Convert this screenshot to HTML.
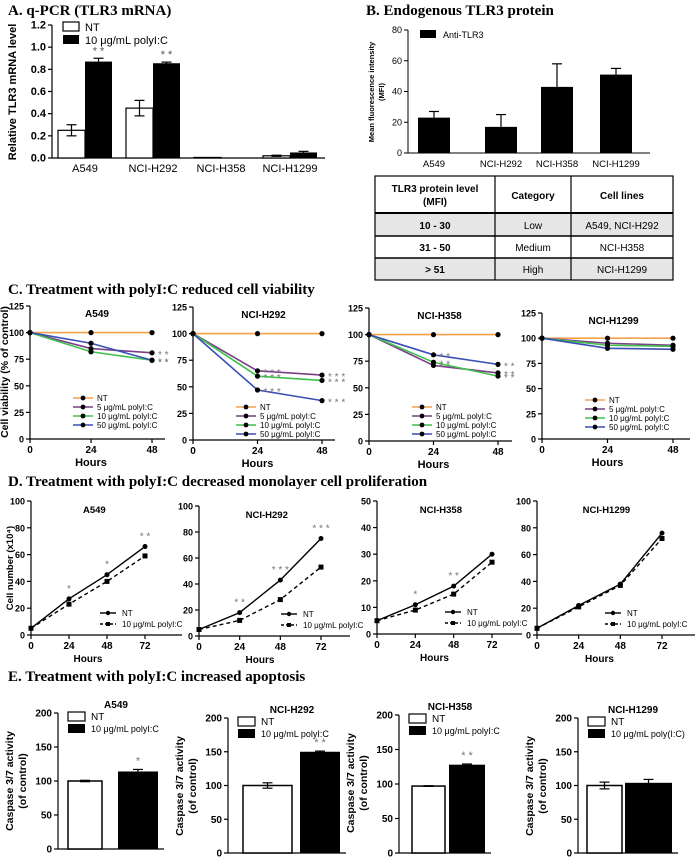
<!DOCTYPE html>
<html><head><meta charset="utf-8"><style>
body{margin:0;background:#fff;}
svg{display:block;font-family:"Liberation Sans",sans-serif;}
.h{font-family:"Liberation Serif",serif;font-weight:bold;font-size:15px;}
.t{font-size:9px;}
.b{font-weight:bold;}
</style></head><body>
<svg id="s" width="700" height="860" viewBox="0 0 700 860">
<text class="h" x="8" y="15">A. q-PCR (TLR3 mRNA)</text>
<text class="h" x="366" y="15">B. Endogenous TLR3 protein</text>
<text class="h" x="8" y="294">C. Treatment with polyI:C  reduced cell viability</text>
<text class="h" x="8" y="486">D. Treatment with polyI:C  decreased monolayer cell proliferation</text>
<text class="h" x="8" y="681">E. Treatment with polyI:C  increased apoptosis</text>
<g id="tbl">
<rect x="375" y="213" width="298" height="23" fill="#e6e6e6"/>
<rect x="375" y="258" width="298" height="22" fill="#e6e6e6"/>
<rect x="375" y="176" width="298" height="104" fill="none" stroke="#000" stroke-width="1.2"/>
<line x1="375" y1="213" x2="673" y2="213" stroke="#000" stroke-width="2"/>
<line x1="375" y1="236" x2="673" y2="236" stroke="#000" stroke-width="1.5"/>
<line x1="375" y1="258" x2="673" y2="258" stroke="#000" stroke-width="1.5"/>
<line x1="495" y1="176" x2="495" y2="280" stroke="#000" stroke-width="1.2"/>
<line x1="571" y1="176" x2="571" y2="280" stroke="#000" stroke-width="1.2"/>
<g font-size="10" text-anchor="middle">
<text x="435" y="192" class="b">TLR3 protein level</text><text x="435" y="205" class="b">(MFI)</text>
<text x="533" y="199" class="b">Category</text><text x="622" y="199" class="b">Cell lines</text>
<text x="435" y="229" class="b">10 - 30</text><text x="533" y="229">Low</text><text x="622" y="229">A549, NCI-H292</text>
<text x="435" y="251" class="b">31 - 50</text><text x="533" y="251">Medium</text><text x="622" y="251">NCI-H358</text>
<text x="435" y="273" class="b">&gt; 51</text><text x="533" y="273">High</text><text x="622" y="273">NCI-H1299</text>
</g></g>
</svg>
<script>
// ---- data ----
const aCats=["A549","NCI-H292","NCI-H358","NCI-H1299"];
const aNT=[0.25,0.45,0.005,0.02];
const aNTerr=[0.05,0.07,0,0.005];
const aPoly=[0.87,0.855,0.004,0.05];
const aPolyErr=[0.03,0.01,0,0.01];
const aStars=["**","**","",""];
const bCats=["A549","NCI-H292","NCI-H358","NCI-H1299"];
const bVals=[23,17,43,51];
const bErr=[4,8,15,4];
const cHours=[0,24,48];
const cNames=["A549","NCI-H292","NCI-H358","NCI-H1299"];
const cNT=[[100,100,100],[100,100,100],[100,100,100],[100,100,100]];
const c5=[[100,85,81],[100,65,61],[100,71,64],[100,95,93]];
const c10=[[100,82,74],[100,60,56],[100,74,61],[100,93,92]];
const c50=[[100,90,74],[100,47,37],[100,81,72],[100,90,89]];
const cTicks=[0,25,50,75,100,125];
const dHours=[0,24,48,72];
const dNT=[[5,27,45,66],[5,18,43,75],[5,11,18,30],[5,22,38,76]];
const dPoly=[[5,23,40,59],[5,12,28,53],[5,9,15,27],[5,21,37,72]];
const dMax=[100,100,50,100];
const dStars=[["","*","*","**"],["","**","***","***"],["","*","**",""],["","","",""]];
const eNT=[100,100,97,100];
const ePoly=[114,150,128,104];
const eNTerr=[1,4,0.5,5];
const ePolyErr=[3,1,1,5];
const eStars=["*","**","**",""];
const eTicks=[0,50,100,150,200];
// ---- helpers ----
const S=document.getElementById('s');const NS="http://www.w3.org/2000/svg";
function mk(tag,at,parent){const e=document.createElementNS(NS,tag);for(const k in at)e.setAttribute(k,at[k]);(parent||S).appendChild(e);return e;}
function txt(x,y,s,at,p){const e=mk('text',Object.assign({x:x,y:y},at||{}),p);e.textContent=s;return e;}
function lin(a,b,c,d,col,w,p,dash){const at={x1:a,y1:b,x2:c,y2:d,stroke:col||'#000','stroke-width':w||1.2};if(dash)at['stroke-dasharray']=dash;return mk('line',at,p);}
function yAxis(g,x,y0,y1,ticks,max,fmt,fs){lin(x,y0,x,y1,'#000',1.2,g);ticks.forEach(t=>{const y=y0-(y0-y1)*t/max;lin(x-4,y,x,y,'#000',1.2,g);txt(x-6,y+3.5,fmt(t),{'text-anchor':'end','font-size':fs||10,'font-weight':'bold'},g);});}
function errbar(g,x,y,e,sy,w){if(e<=0)return;lin(x,sy(y+e),x,sy(y-e),'#000',1.2,g);lin(x-w,sy(y+e),x+w,sy(y+e),'#000',1.2,g);lin(x-w,sy(y-e),x+w,sy(y-e),'#000',1.2,g);}

// ---- Panel A ----
(function(){const g=mk('g',{});


const x0=52,y0=158,y1=25,max=1.2;const sy=v=>y0-(y0-y1)*v/max;
yAxis(g,x0,y0,y1,[0,0.2,0.4,0.6,0.8,1.0,1.2],max,t=>t.toFixed(1),11);
lin(x0,y0,325,y0,'#000',1.2,g);
const cx=[85,153,221,290];
aCats.forEach((c,i)=>{
const r1=mk('rect',{x:cx[i]-27,y:sy(aNT[i]),width:27,height:y0-sy(aNT[i]),fill:'#fff',stroke:'#000','stroke-width':1.2},g);

errbar(g,cx[i]-13.5,aNT[i],aNTerr[i],sy,5);
const r2=mk('rect',{x:cx[i],y:sy(aPoly[i]),width:27,height:y0-sy(aPoly[i]),fill:'#000'},g);

errbar(g,cx[i]+13.5,aPoly[i],aPolyErr[i],sy,5);
if(aStars[i])txt(cx[i]+13.5,sy(aPoly[i]+aPolyErr[i])-4,aStars[i].split('').join(' '),{'text-anchor':'middle','font-size':11,fill:'#555'},g);
txt(cx[i],172,c,{'text-anchor':'middle','font-size':11},g);});
txt(0,0,'Relative TLR3 mRNA level',{'font-size':11,'font-weight':'bold',transform:'translate(16,92) rotate(-90)','text-anchor':'middle'},g);
mk('rect',{x:63,y:22,width:16,height:9,fill:'#fff',stroke:'#000','stroke-width':1.2},g);txt(85,31,'NT',{'font-size':11},g);
mk('rect',{x:63,y:35,width:16,height:9,fill:'#000'},g);txt(85,44,'10 μg/mL polyI:C',{'font-size':11},g);
})();

// ---- Panel B ----
(function(){const g=mk('g',{});


const x0=408,y0=153,y1=30,max=80;const sy=v=>y0-(y0-y1)*v/max;
lin(x0,y0,x0,y1,'#000',1,g);[0,20,40,60,80].forEach(t=>{lin(x0-4,sy(t),x0,sy(t),'#000',1,g);txt(x0-6,sy(t)+3,String(t),{'text-anchor':'end','font-size':9},g);});
lin(x0,y0,650,y0,'#000',1,g);
const cx=[434,501,557,616];
bCats.forEach((c,i)=>{
const r=mk('rect',{x:cx[i]-16,y:sy(bVals[i]),width:32,height:y0-sy(bVals[i]),fill:'#000'},g);

lin(cx[i],sy(bVals[i]),cx[i],sy(bVals[i]+bErr[i]),'#000',1.2,g);lin(cx[i]-5,sy(bVals[i]+bErr[i]),cx[i]+5,sy(bVals[i]+bErr[i]),'#000',1.2,g);
txt(cx[i],167,c,{'text-anchor':'middle','font-size':9.5},g);});
txt(0,0,'Mean fluorescence intensity',{'font-size':7.5,'font-weight':'bold',transform:'translate(374,92) rotate(-90)','text-anchor':'middle'},g);
txt(0,0,'(MFI)',{'font-size':7.5,'font-weight':'bold',transform:'translate(384,92) rotate(-90)','text-anchor':'middle'},g);
mk('rect',{x:420,y:30,width:16,height:8,fill:'#000'},g);txt(443,38,'Anti-TLR3',{'font-size':9},g);
})();

// ---- Panel C ----
const cGeo=[{x0:30,x24:90,x48:152,xe:165,y0:439,y125:306},{x0:193,x24:258,x48:322,xe:335,y0:440,y125:307},{x0:369,x24:433,x48:498,xe:512,y0:441,y125:308},{x0:542,x24:607,x48:673,xe:690,y0:439,y125:313}];
const cCols=['#f4a24a','#7b3f8c','#3fc24a','#3a4fb5'];
const cLab=['NT','5 μg/mL polyI:C','10 μg/mL polyI:C','50 μg/mL polyI:C'];
const cLegDy=[41,33,34,39];
const cStars=[[["",""],["","**"],["","**"],["","**"]],[["",""],["***","***"],["***","***"],["***","***"]],[["",""],["**","**"],["**","**"],["**","**"]],[["",""],["",""],["",""],["",""]]];
cNames.forEach((nm,k)=>{const G=cGeo[k];const g=mk('g',{});


const sx=h=>G.x0+(G.x48-G.x0)*h/48;const sy=v=>G.y0-(G.y0-G.y125)*v/125;
yAxis(g,G.x0,G.y0,G.y125,cTicks,125,String,9);
lin(G.x0,G.y0,G.xe,G.y0,'#000',1.2,g);
cHours.forEach(h=>{lin(sx(h),G.y0,sx(h),G.y0+4,'#000',1.2,g);txt(sx(h),G.y0+14,String(h),{'text-anchor':'middle','font-size':10,'font-weight':'bold'},g);});
txt((G.x0+G.x48)/2,G.y0+27,'Hours',{'text-anchor':'middle','font-size':11,'font-weight':'bold'},g);
txt((G.x0+G.x48)/2+6,G.y125+11,nm,{'text-anchor':'middle','font-size':10,'font-weight':'bold'},g);
[cNT[k],c5[k],c10[k],c50[k]].forEach((ser,j)=>{
const pl=mk('polyline',{points:ser.map((v,i)=>sx(cHours[i])+','+sy(v)).join(' '),fill:'none',stroke:cCols[j],'stroke-width':1.6},g);

ser.forEach((v,i)=>{const m=mk('circle',{cx:sx(cHours[i]),cy:sy(v),r:2.6,fill:'#000'},g);});
if(j>0){[1,2].forEach(i=>{const st=cStars[k][j][i-1];if(st)txt(sx(cHours[i])+6,sy(ser[i])+5,st.split('').join(' '),{'font-size':10,fill:'#777'},g);});}
});
const lx=G.x0+43,ly=G.y0-cLegDy[k];
cLab.forEach((l,j)=>{lin(lx,ly+j*9,lx+20,ly+j*9,cCols[j],1.6,g);mk('circle',{cx:lx+10,cy:ly+j*9,r:2.4,fill:'#000'},g);txt(lx+24,ly+j*9+3,l,{'font-size':8},g);});
});
txt(0,0,'Cell viability (% of control)',{'font-size':10.5,'font-weight':'bold',transform:'translate(8,372) rotate(-90)','text-anchor':'middle'});

// ---- Panel D ----
const dGeo=[{x0:31,x72:145,xe:182,y0:635,yt:501},{x0:199,x72:321,xe:350,y0:636,yt:506},{x0:377,x72:492,xe:522,y0:634,yt:501},{x0:537,x72:662,xe:695,y0:635,yt:501}];
const dLx=[100,281,445,605];
cNames.forEach((nm,k)=>{const G=dGeo[k];const g=mk('g',{});


const sx=h=>G.x0+(G.x72-G.x0)*h/72;const sy=v=>G.y0-(G.y0-G.yt)*v/dMax[k];
const tk=dMax[k]==50?[0,10,20,30,40,50]:[0,20,40,60,80,100];
yAxis(g,G.x0,G.y0,G.yt,tk,dMax[k],String,9);
lin(G.x0,G.y0,G.xe,G.y0,'#000',1.2,g);
dHours.forEach(h=>{lin(sx(h),G.y0,sx(h),G.y0+4,'#000',1.2,g);txt(sx(h),G.y0+14,String(h),{'text-anchor':'middle','font-size':10,'font-weight':'bold'},g);});
txt(sx(36),G.y0+27,'Hours',{'text-anchor':'middle','font-size':10,'font-weight':'bold'},g);
txt(sx(40),G.yt+12,nm,{'text-anchor':'middle','font-size':9.5,'font-weight':'bold'},g);
[dNT[k],dPoly[k]].forEach((ser,j)=>{
const pl=mk('polyline',{points:ser.map((v,i)=>sx(dHours[i])+','+sy(v)).join(' '),fill:'none',stroke:'#000','stroke-width':1.4,'stroke-dasharray':j?'4,3':'none'},g);

ser.forEach((v,i)=>{if(j)mk('rect',{x:sx(dHours[i])-2.5,y:sy(v)-2.5,width:5,height:5,fill:'#000'},g);else mk('circle',{cx:sx(dHours[i]),cy:sy(v),r:2.5,fill:'#000'},g);});});
dStars[k].forEach((st,i)=>{if(st)txt(sx(dHours[i]),sy(dNT[k][i])-7,st.split('').join(' '),{'text-anchor':'middle','font-size':10,fill:'#777'},g);});
const lx=dLx[k],ly=G.y0-22;
lin(lx,ly,lx+16,ly,'#000',1.4,g);mk('circle',{cx:lx+8,cy:ly,r:2.2,fill:'#000'},g);txt(lx+22,ly+3,'NT',{'font-size':8},g);
lin(lx,ly+11,lx+16,ly+11,'#000',1.4,g,'3,2');mk('rect',{x:lx+6,y:ly+9,width:4,height:4,fill:'#000'},g);txt(lx+22,ly+14,'10 μg/mL polyI:C',{'font-size':8},g);
});
txt(0,0,'Cell number (x10⁴)',{'font-size':9.5,'font-weight':'bold',transform:'translate(13,568) rotate(-90)','text-anchor':'middle'});

// ---- Panel E ----
const eGeo=[{x0:58,y0:849,yt:713,nt:[68,102],po:[118,158]},{x0:228,y0:853,yt:718,nt:[243,292],po:[300,340]},{x0:399,y0:853,yt:715,nt:[412,445],po:[449,485]},{x0:578,y0:853,yt:718,nt:[587,622],po:[625,672]}];
const eLeg=['10 μg/mL polyI:C','10 μg/mL polyI:C','10 μg/mL polyI:C','10 μg/mL poly(I:C)'];
cNames.forEach((nm,k)=>{const G=eGeo[k];const g=mk('g',{});


const sy=v=>G.y0-(G.y0-G.yt)*v/200;
yAxis(g,G.x0,G.y0,G.yt,eTicks,200,String,10);
lin(G.x0,G.y0,G.po[1]+6,G.y0,'#000',1.2,g);
const r1=mk('rect',{x:G.nt[0],y:sy(eNT[k]),width:G.nt[1]-G.nt[0],height:G.y0-sy(eNT[k]),fill:'#fff',stroke:'#000','stroke-width':1.5},g);

const r2=mk('rect',{x:G.po[0],y:sy(ePoly[k]),width:G.po[1]-G.po[0],height:G.y0-sy(ePoly[k]),fill:'#000'},g);

errbar(g,(G.nt[0]+G.nt[1])/2,eNT[k],eNTerr[k],sy,5);
errbar(g,(G.po[0]+G.po[1])/2,ePoly[k],ePolyErr[k],sy,5);
if(eStars[k])txt((G.po[0]+G.po[1])/2,sy(ePoly[k]+ePolyErr[k])-5,eStars[k].split('').join(' '),{'text-anchor':'middle','font-size':11,fill:'#777'},g);
txt((G.x0+G.po[1])/2+8,G.yt-5,nm,{'text-anchor':'middle','font-size':10,'font-weight':'bold'},g);
mk('rect',{x:G.x0+10,y:G.yt-1,width:17,height:9,fill:'#fff',stroke:'#000','stroke-width':1.2},g);txt(G.x0+33,G.yt+7,'NT',{'font-size':10},g);
mk('rect',{x:G.x0+10,y:G.yt+11,width:17,height:9,fill:'#000'},g);txt(G.x0+33,G.yt+19,eLeg[k],{'font-size':9},g);
txt(0,0,'Caspase 3/7 activity',{'font-size':10.5,'font-weight':'bold',transform:'translate('+(G.x0-45)+','+(G.yt+68)+') rotate(-90)','text-anchor':'middle'},g);
txt(0,0,'(of control)',{'font-size':10.5,'font-weight':'bold',transform:'translate('+(G.x0-32)+','+(G.yt+68)+') rotate(-90)','text-anchor':'middle'},g);
});
</script>
</body></html>
